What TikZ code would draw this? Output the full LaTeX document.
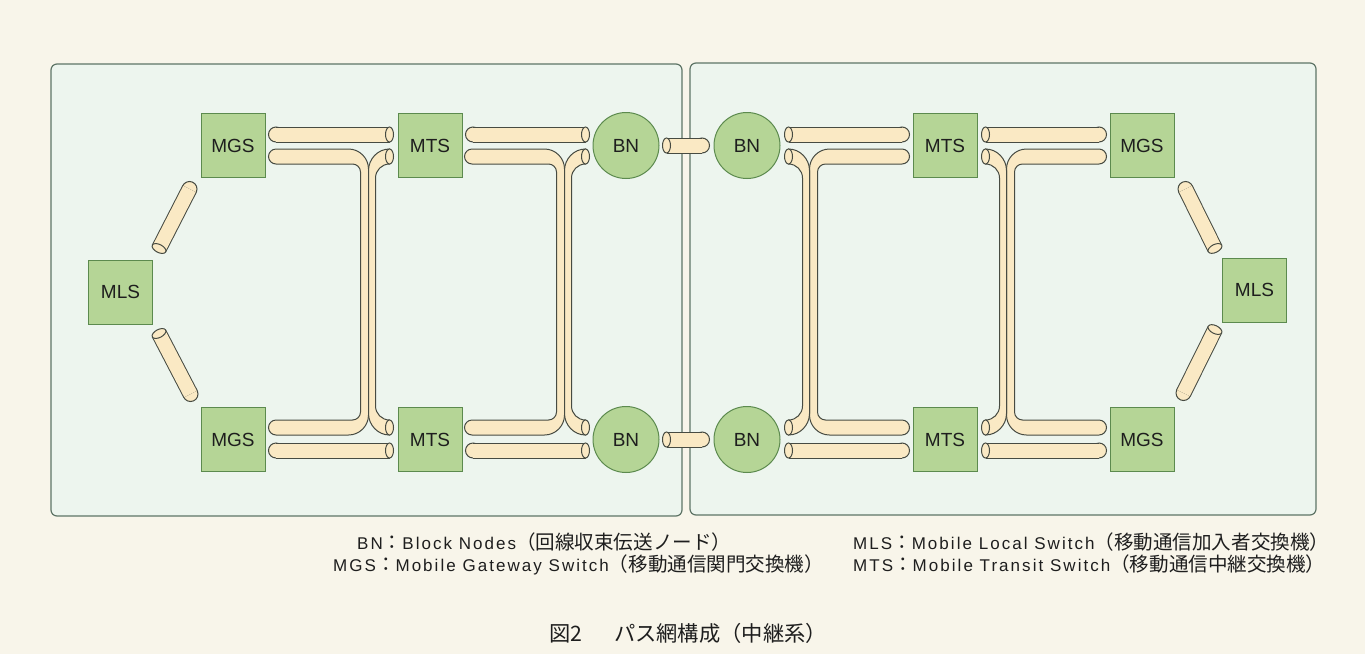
\documentclass[tikz,border=0pt]{standalone}
\usepackage{fontspec}
\setmainfont{Liberation Sans}
\newfontfamily\legendfont[LetterSpace=12]{Liberation Sans}
\newfontfamily\jpfont[Scale=1.15]{Noto Sans CJK JP}
\usetikzlibrary{positioning, calc}

\definecolor{pagebg}{HTML}{F8F5EA}
\definecolor{panelfill}{HTML}{EDF5EE}
\definecolor{panelline}{HTML}{5E7466}
\definecolor{boxfill}{HTML}{B5D596}
\definecolor{boxline}{HTML}{5C8A4E}
\definecolor{tubefill}{HTML}{FAE9C4}
\definecolor{tubeedge}{HTML}{474B42}
\definecolor{inkcol}{HTML}{1E1E1E}

\newcommand\jp[1]{{\jpfont #1}}

% straight tube: rounded end at #1, open end at #2
\newcommand\tube[2]{%
  \coordinate (ta) at (#1);
  \coordinate (tb) at (#2);
  \path let \p1=($(tb)-(ta)$) in \pgfextra{\pgfmathparse{atan2(\y1,\x1)}\xdef\tubeang{\pgfmathresult}};
  \filldraw[tube] (ta) circle[radius=7.5];
  \draw[tubeedge, line width=16pt] (ta) -- (tb);
  \draw[tubefill, line width=14pt] (ta) -- (tb);
  \filldraw[tube, rotate around={\tubeang:(tb)}] (tb) ellipse[x radius=4, y radius=7.5];
}

% forked tube: #1 open end of the short branch (top), #2 = 1 or -1 (mirror)
\newcommand\tubefork[2]{%
  \begin{scope}[shift={(#1)}, xscale=#2]
    % long branch
    \filldraw[tube] (-113.5,-7.5) -- (-41,-7.5) .. controls (-30,-7.5) and (-21,1.5) .. (-21,12.5)
      -- (-21,258.5) .. controls (-21,269.5) and (-30,278.5) .. (-41,278.5) -- (-113.5,278.5)
      .. controls (-117.6,278.5) and (-121,275.1) .. (-121,271) .. controls (-121,266.9) and (-117.6,263.5) .. (-113.5,263.5)
      -- (-37,263.5) .. controls (-32.6,263.5) and (-29,259.9) .. (-29,255.5)
      -- (-29,15.5) .. controls (-29,11.1) and (-32.6,7.5) .. (-37,7.5)
      -- (-113.5,7.5) .. controls (-117.6,7.5) and (-121,4.1) .. (-121,0) .. controls (-121,-4.1) and (-117.6,-7.5) .. (-113.5,-7.5) -- cycle;
    % short branch
    \filldraw[tube] (0,-7.5) .. controls (-11.6,-7.5) and (-21,2.4) .. (-21,14) -- (-21,257)
      .. controls (-21,268.6) and (-11.6,278.5) .. (0,278.5) -- (0,263.5)
      .. controls (-7.7,263.5) and (-14,257.2) .. (-14,249.5) -- (-14,21.5)
      .. controls (-14,13.8) and (-7.7,7.5) .. (0,7.5) -- cycle;
    \filldraw[tube] (0,0) ellipse[x radius=4, y radius=7.5] (0,271) ellipse[x radius=4, y radius=7.5];
  \end{scope}}

\begin{document}
\begin{tikzpicture}[
    x=1pt, y=-1pt,
    box/.style={draw=boxline, fill=boxfill, line width=1pt, minimum size=64pt, inner sep=0pt,
      font=\fontsize{19}{21}\selectfont, text=inkcol},
    bn/.style={box, circle, minimum size=66pt},
    tube/.style={draw=tubeedge, fill=tubefill, line width=1pt},
    panel/.style={draw=panelline, fill=panelfill, line width=1.2pt, rounded corners=6pt},
    legend/.style={font=\legendfont\fontsize{17}{20}\selectfont, text=inkcol, inner sep=0pt, anchor=base west}
]

    % Page and the two network halves
    \fill[pagebg] (0,0) rectangle (1365,654);
    \useasboundingbox (0,0) rectangle (1365,654);
    \draw[panel] (51,64) rectangle (682,516);
    \draw[panel] (690,63) rectangle (1316,515);

    % Upper row
    \node[box] (mgsTL) at (233,145.5) {MGS};
    \node[box, right=132pt of mgsTL] (mtsTL) {MTS};
    \node[bn, right=130pt of mtsTL] (bnTL) {BN};
    \node[bn, right=54pt of bnTL] (bnTR) {BN};
    \node[box, right=132pt of bnTR] (mtsTR) {MTS};
    \node[box, right=132pt of mtsTR] (mgsTR) {MGS};

    % Lower row
    \node[box, below=229pt of mgsTL] (mgsBL) {MGS};
    \node[box, below=229pt of mtsTL] (mtsBL) {MTS};
    \node[bn, below=227pt of bnTL] (bnBL) {BN};
    \node[bn, below=227pt of bnTR] (bnBR) {BN};
    \node[box, below=229pt of mtsTR] (mtsBR) {MTS};
    \node[box, below=229pt of mgsTR] (mgsBR) {MGS};

    % Local switches
    \node[box] (mlsL) at (120.5,292) {MLS};
    \node[box] (mlsR) at (1254.5,290) {MLS};

    % Straight paths, left half
    \tube{$(mgsTL.east)+(10.5,-11)$}{$(mtsTL.west)+(-8,-11)$}
    \tube{$(mtsTL.east)+(10.5,-11)$}{$(bnTL.west)+(-7,-11)$}
    \tube{$(mgsBL.east)+(10.5,11)$}{$(mtsBL.west)+(-8,11)$}
    \tube{$(mtsBL.east)+(10.5,11)$}{$(bnBL.west)+(-7,11)$}

    % Straight paths, right half
    \tube{$(mtsTR.west)+(-10.5,-11)$}{$(bnTR.east)+(8,-11)$}
    \tube{$(mgsTR.west)+(-10.5,-11)$}{$(mtsTR.east)+(8,-11)$}
    \tube{$(mtsBR.west)+(-10.5,11)$}{$(bnBR.east)+(8,11)$}
    \tube{$(mgsBR.west)+(-10.5,11)$}{$(mtsBR.east)+(8,11)$}

    % BN to BN
    \tube{$(bnTR.west)+(-11.5,0)$}{$(bnTL.east)+(7,0)$}
    \tube{$(bnBR.west)+(-11.5,0)$}{$(bnBL.east)+(7,0)$}

    % MLS links
    \tube{$(mgsTL.south west)+(-11,11)$}{$(mlsL.north east)+(6,-11)$}
    \tube{$(mgsBL.north west)+(-10,-13)$}{$(mlsL.south east)+(6,9)$}
    \tube{$(mgsTR.south east)+(11,11)$}{$(mlsR.north west)+(-7,-9)$}
    \tube{$(mgsBR.north east)+(9,-14)$}{$(mlsR.south west)+(-7,7)$}

    % Vertical paths between the rows
    \tubefork{$(mtsTL.west)+(-8,11)$}{1}
    \tubefork{$(bnTL.west)+(-7,11)$}{1}
    \tubefork{$(bnTR.east)+(8,11)$}{-1}
    \tubefork{$(mtsTR.east)+(8,11)$}{-1}

    % Legend
    \node[legend] (keyBN) at (357,549.5) {BN\jp{：}Block Nodes\jp{（回線収束伝送ノード）}};
    \node[legend] (keyMGS) at (333,571.5) {MGS\jp{：}Mobile Gateway Switch\jp{（移動通信関門交換機）}};
    \node[legend] (keyMLS) at (853,549.5) {MLS\jp{：}Mobile Local Switch\jp{（移動通信加入者交換機）}};
    \node[legend] (keyMTS) at (853,571.5) {MTS\jp{：}Mobile Transit Switch\jp{（移動通信中継交換機）}};

    % Caption
    \node[text=inkcol, inner sep=0pt, anchor=base, font=\fontsize{18.5}{20}\selectfont] (title) at (688,641)
        {\jp{図2\hspace{1.5em}パス網構成（中継系）}};

\end{tikzpicture}
\end{document}
